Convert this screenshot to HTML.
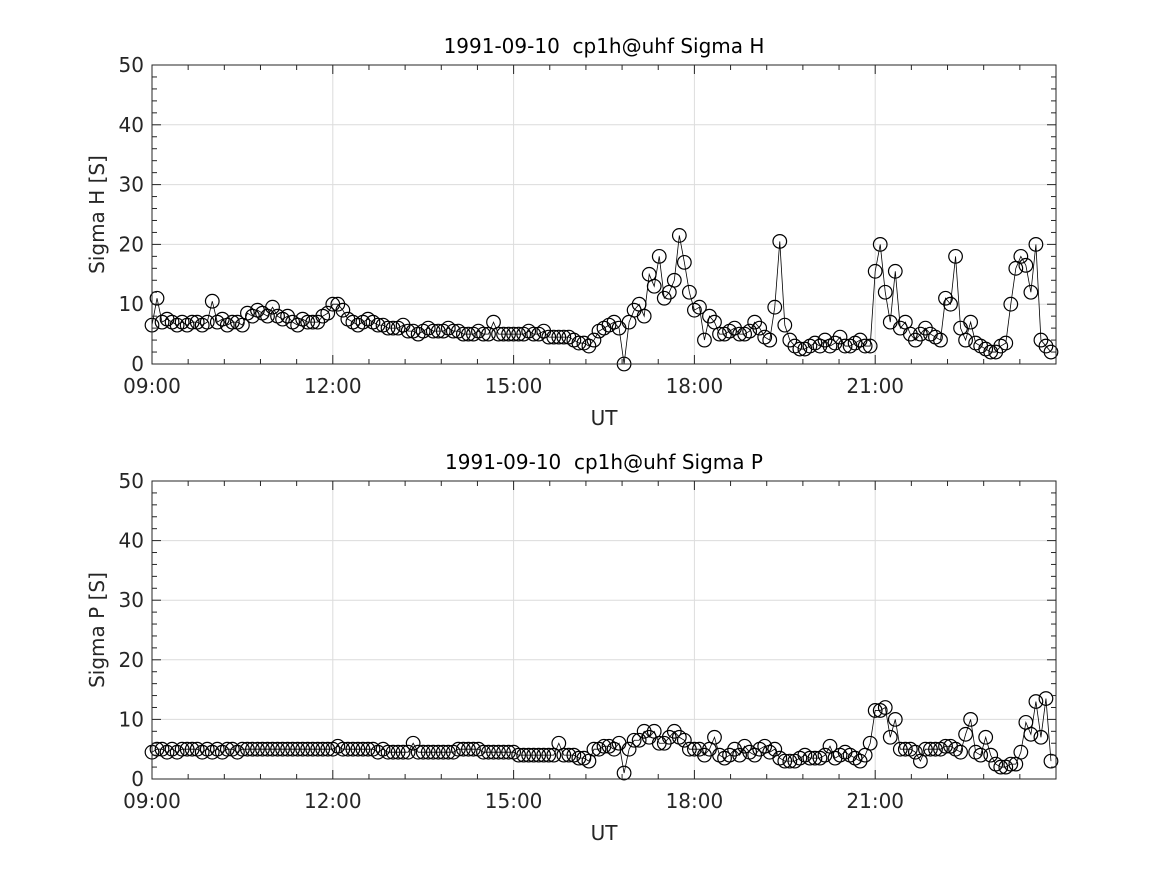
<!DOCTYPE html>
<html><head><meta charset="utf-8"><style>
body{margin:0;background:#fff}
svg{display:block;font-family:"DejaVu Sans","Liberation Sans",sans-serif}
</style></head><body>
<svg id="chart" width="1167" height="875" viewBox="0 0 1167 875"></svg>
<script>
const startHour = 9;
const stepMinutes = 5;
const xTickLabels = ["09:00","12:00","15:00","18:00","21:00"];
const xTickHours = [9,12,15,18,21];
const yTickValues = [0,10,20,30,40,50];
const sigmaH = [
6.5,11,7,7.5,7,6.5,7,6.5,7,7,6.5,7,
10.5,7,7.5,6.5,7,7,6.5,8.5,8,9,8.5,8,
9.5,8,7.5,8,7,6.5,7.5,7,7,7,8,8.5,
10,10,9,7.5,7,6.5,7,7.5,7,6.5,6.5,6,
6,6,6.5,5.5,5.5,5,5.5,6,5.5,5.5,5.5,6,
5.5,5.5,5,5,5,5.5,5,5,7,5,5,5,
5,5,5,5.5,5,5,5.5,4.5,4.5,4.5,4.5,4.5,
4,3.5,3.5,3,4,5.5,6,6.5,7,6,0,7,
9,10,8,15,13,18,11,12,14,21.5,17,12,
9,9.5,4,8,7,5,5,5.5,6,5,5,5.5,
7,6,4.5,4,9.5,20.5,6.5,4,3,2.5,2.5,3,
3.5,3,4,3,3.5,4.5,3,3,3.5,4,3,3,
15.5,20,12,7,15.5,6,7,5,4,5,6,5,
4.5,4,11,10,18,6,4,7,3.5,3,2.5,2,
2,3,3.5,10,16,18,16.5,12,20,4,3,2];
const sigmaP = [
4.5,5,5,4.5,5,4.5,5,5,5,5,4.5,5,
4.5,5,4.5,5,5,4.5,5,5,5,5,5,5,
5,5,5,5,5,5,5,5,5,5,5,5,
5,5.5,5,5,5,5,5,5,5,4.5,5,4.5,
4.5,4.5,4.5,4.5,6,4.5,4.5,4.5,4.5,4.5,4.5,4.5,
4.5,5,5,5,5,5,4.5,4.5,4.5,4.5,4.5,4.5,
4.5,4,4,4,4,4,4,4,4,6,4,4,
4,3.5,3.5,3,5,5,5.5,5.5,5,6,1,5,
6.5,6.5,8,7,8,6,6,7,8,7,6.5,5,
5,5,4,5,7,4,3.5,4,5,4,5.5,4.5,
4,5,5.5,4.5,5,3.5,3,3,3,3.5,4,3.5,
3.5,3.5,4,5.5,3.5,4,4.5,4,3.5,3,4,6,
11.5,11.5,12,7,10,5,5,5,4.5,3,5,5,
5,5,5.5,5.5,5,4.5,7.5,10,4.5,4,7,4,
2.5,2,2,2.5,2.5,4.5,9.5,7.5,13,7,13.5,3];

const NS="http://www.w3.org/2000/svg";
const svg=document.getElementById('chart');
function el(tag,attrs,parent,txt){const e=document.createElementNS(NS,tag);for(const k in attrs)e.setAttribute(k,attrs[k]);if(txt!==undefined)e.textContent=txt;(parent||svg).appendChild(e);return e;}

function panel(top,bottom,values,title,ylabel,key){
  const L=152,R=1056;
  const x=h=>L+(h-9)*(R-L)/15;
  const y=v=>bottom-v*(bottom-top)/50;
  const g=el('g',{},svg);
  
  
  xTickHours.forEach(h=>{if(h>9){const l=el('line',{x1:x(h),x2:x(h),y1:top,y2:bottom,stroke:'#dcdcdc','stroke-width':1},g);}});
  yTickValues.forEach(v=>{if(v>0&&v<50){const l=el('line',{x1:L,x2:R,y1:y(v),y2:y(v),stroke:'#dcdcdc','stroke-width':1},g);}});
  const pts=values.map((v,i)=>[x(startHour+i*stepMinutes/60),y(v)]);
  const pl=el('polyline',{points:pts.map(p=>p.join(',')).join(' '),fill:'none',stroke:'#000','stroke-width':0.8},g);
  
  
  pts.forEach(p=>{const c=el('circle',{cx:p[0],cy:p[1],r:6.8,fill:'none',stroke:'#000','stroke-width':1.2},g);
    
    });
  const b=el('rect',{x:L,y:top,width:R-L,height:bottom-top,fill:'none',stroke:'#262626','stroke-width':1},g);
  
  
  for(let m=0;m<=15*60;m+=36){const xx=x(9+m/60);const maj=m%180===0;const len=maj?9:5;
    el('line',{x1:xx,x2:xx,y1:bottom,y2:bottom-len,stroke:'#262626'},g);
    el('line',{x1:xx,x2:xx,y1:top,y2:top+len,stroke:'#262626'},g);}
  for(let v=0;v<=50;v+=2){const yy=y(v);const len=v%10===0?9:5;
    el('line',{x1:L,x2:L+len,y1:yy,y2:yy,stroke:'#262626'},g);
    el('line',{x1:R,x2:R-len,y1:yy,y2:yy,stroke:'#262626'},g);}
  xTickLabels.forEach((t,i)=>{const tx=el('text',{x:x(xTickHours[i]),y:bottom+29,'text-anchor':'middle','font-size':20,fill:'#262626'},g,t);
    });
  yTickValues.forEach(v=>{const tx=el('text',{x:L-8,y:y(v)+7,'text-anchor':'end','font-size':20,fill:'#262626'},g,String(v));
    });
  const tt=el('text',{x:(L+R)/2,y:top-12,'text-anchor':'middle','font-size':20,fill:'#000','xml:space':'preserve',style:'white-space:pre'},g,title);
  
  const xl=el('text',{x:(L+R)/2,y:bottom+61,'text-anchor':'middle','font-size':20,fill:'#262626'},g,'UT');
  
  const cy=(top+bottom)/2;
  const yl=el('text',{x:104,y:cy,'text-anchor':'middle','font-size':20,fill:'#262626',transform:`rotate(-90 104 ${cy})`},g,ylabel);
  
}
panel(65,364,sigmaH,'1991-09-10  cp1h@uhf Sigma H','Sigma H [S]','sigma-h');
panel(481,779,sigmaP,'1991-09-10  cp1h@uhf Sigma P','Sigma P [S]','sigma-p');
</script>
</body></html>
